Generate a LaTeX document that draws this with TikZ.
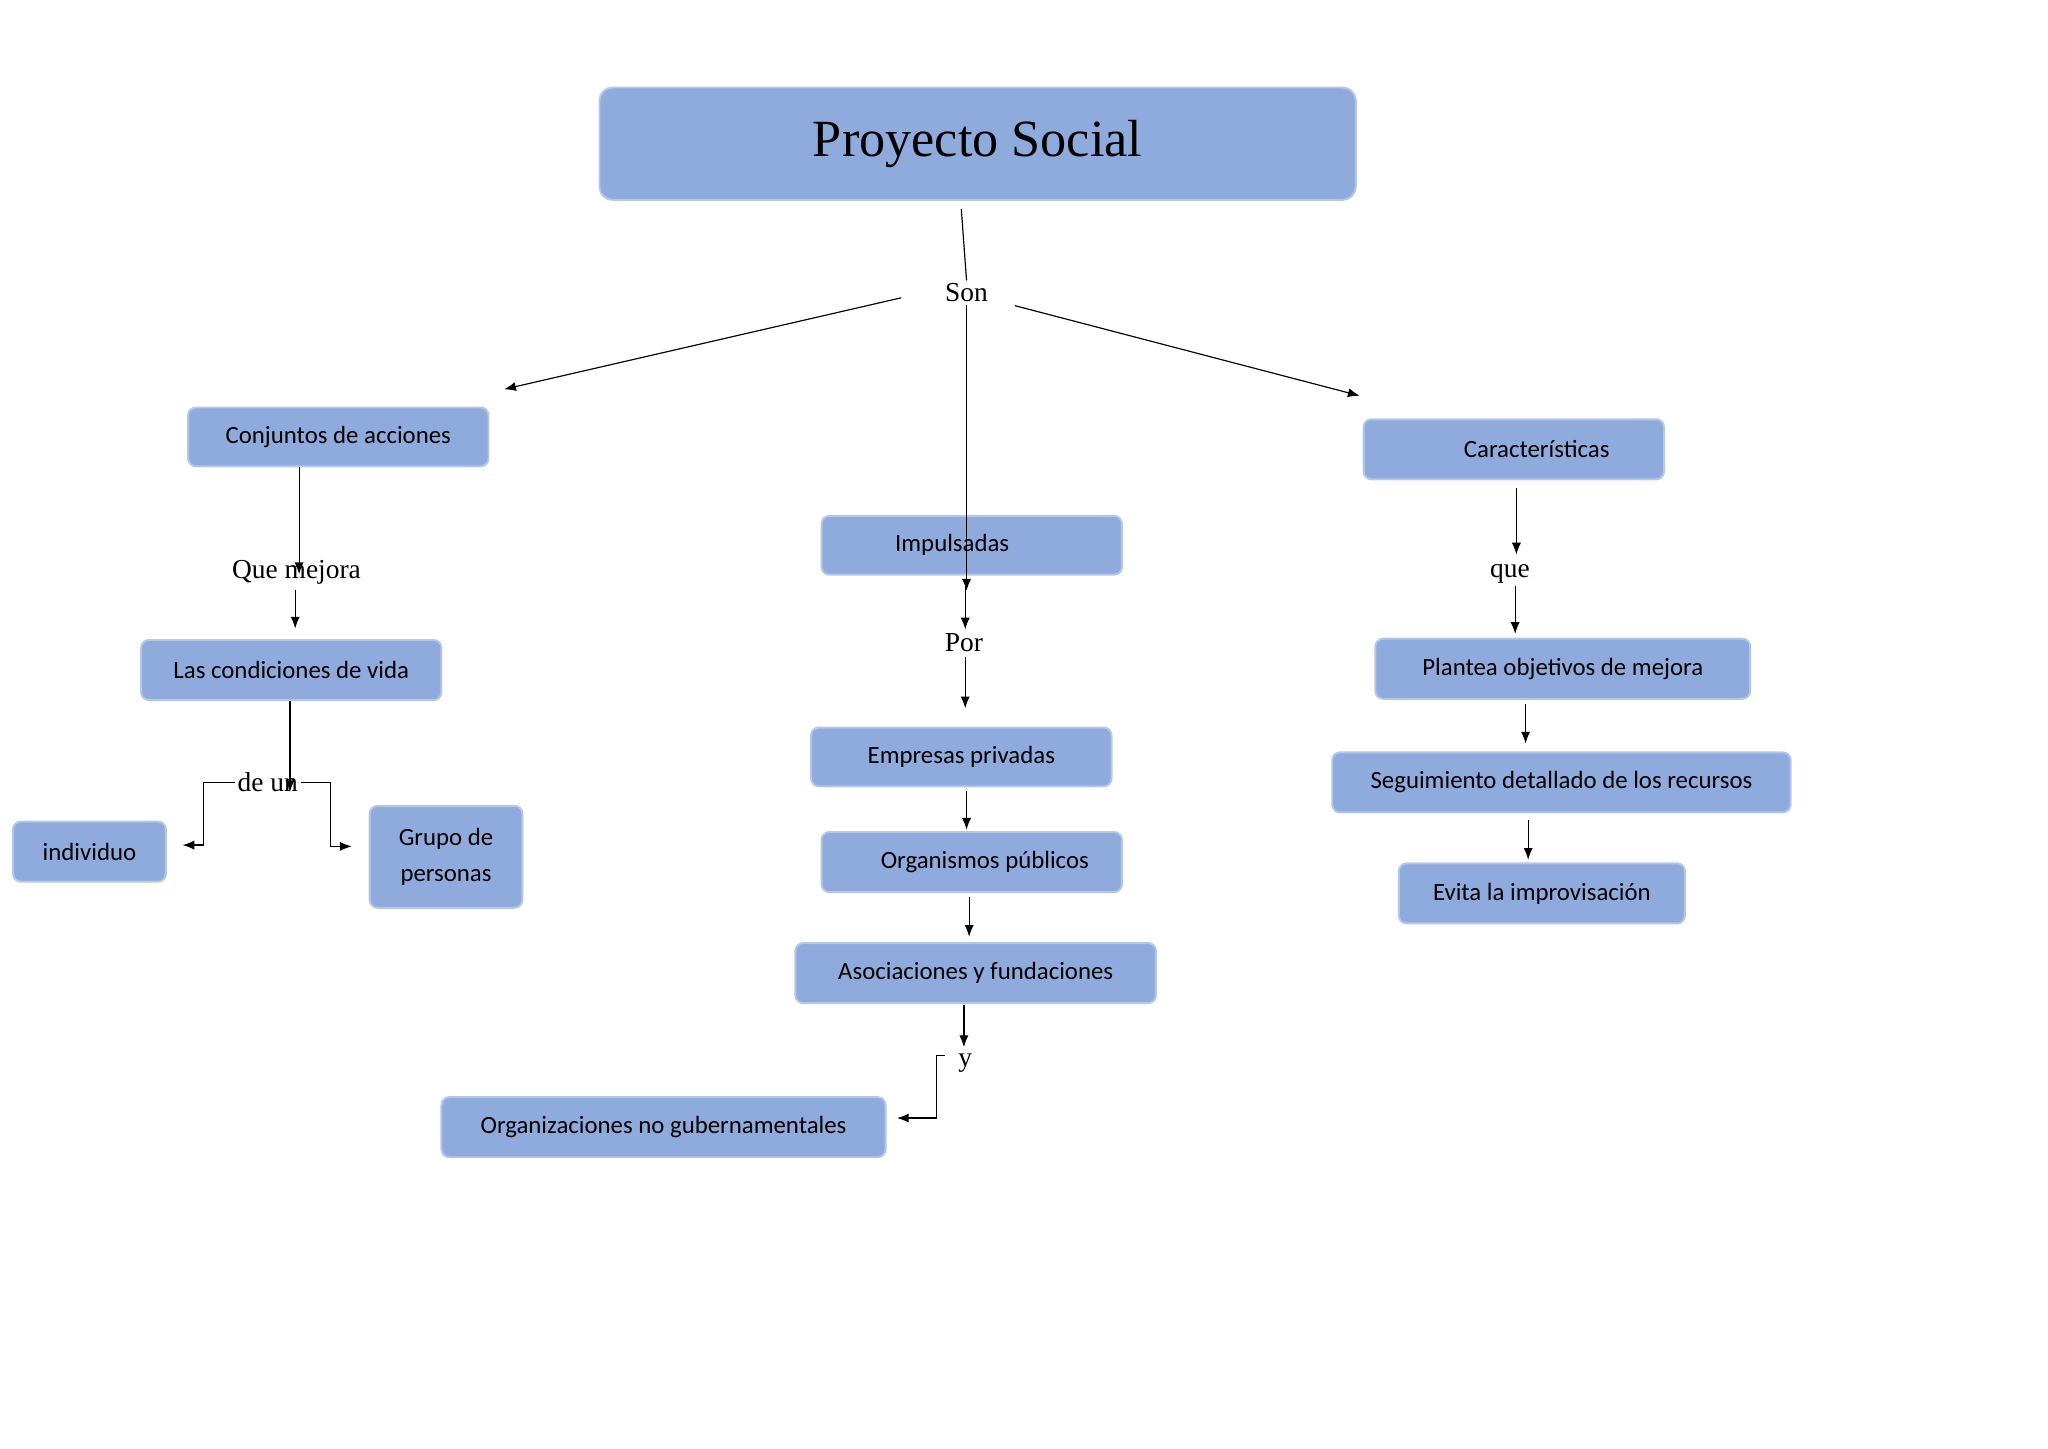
\documentclass[tikz,border=0pt]{standalone}
\usepackage{fontspec}
\setmainfont{Liberation Serif}
\newfontfamily\boxfont{Carlito}
\usetikzlibrary{arrows.meta}
\definecolor{bfill}{HTML}{8FAADC}
\definecolor{bdraw}{HTML}{B4C7E7}
\begin{document}
\begin{tikzpicture}[x=1pt,y=-1pt,
  box/.style={draw=bdraw,line width=1.5pt,fill=bfill,rounded corners=6pt,font=\boxfont\fontsize{19}{23}\selectfont,align=center,inner sep=0pt},
  lab/.style={font=\fontsize{21}{25}\selectfont,inner sep=2pt},
  arr/.style={-{Latex[length=9pt,width=7pt]},line width=0.9pt},
  ln/.style={line width=0.9pt}]
\useasboundingbox (0,0) rectangle (1568,1109);
\newcommand\bx[6]{\node[box,minimum width=#4-#2,minimum height=#5-#3] (#1) at ({(#2+#4)/2},{(#3+#5)/2}) {#6};}
\node[box,minimum width=579,minimum height=86,font=\fontsize{40}{46}\selectfont,rounded corners=10pt] (title) at (748.5,110) {Proyecto Social};
\bx{conj}{144}{312}{374}{357}{Conjuntos de acciones}
\bx{cond}{108}{490}{338}{536}{Las condiciones de vida}
\bx{ind}{10}{629}{127}{675}{individuo}
\bx{grupo}{283}{617}{400}{695}{Grupo de\\[4pt]personas}
\bx{imp}{629}{395}{859}{440}{\hspace*{-30pt}Impulsadas}
\bx{emp}{621}{557}{851}{602}{Empresas privadas}
\bx{org}{629}{637}{859}{683}{\hspace*{20pt}Organismos públicos}
\bx{asoc}{609}{722}{885}{768}{Asociaciones y fundaciones}
\bx{ong}{338}{840}{678}{886}{Organizaciones no gubernamentales}
\bx{car}{1044}{321}{1274}{367}{\hspace*{35pt}Características}
\bx{plan}{1053}{489}{1340}{535}{Plantea objetivos de mejora}
\bx{seg}{1020}{576}{1371}{622}{Seguimiento detallado de los recursos}
\bx{evi}{1071}{661}{1290}{707}{Evita la improvisación}
\node[lab] (son) at (740,224) {Son};
\node[lab] (qm) at (227,438) {Que mejora};
\node[lab] (deun) at (205,599) {de un};
\node[lab] (por) at (738,492) {Por};
\node[lab] (y) at (739,814) {y};
\node[lab] (que) at (1156,439) {que};
\coordinate (t1) at (736,160);
\draw[ln] (t1) -- (son.north);
\coordinate (sl) at (690,228); \coordinate (sr) at (777,234);
\coordinate (el) at (386,298); \coordinate (er) at (1041,303);
\draw[arr] (sl) -- (el);
\draw[arr] (sr) -- (er);
\draw[arr] (son.south) -- ([yshift=-58]imp.north -| son);
\draw[arr,shorten >=5pt] (conj.south -| 229,0) -- ([yshift=-18]qm.north -| 229,0);
\draw[arr,shorten <=2pt,shorten >=8pt] (qm.south -| 226,0) -- (cond.north -| 226,0);
\draw[arr,shorten >=3pt] (cond.south -| 222,0) -- ([yshift=-20]deun.north -| 222,0);
\draw[arr] (deun.west) -| (156,647) -- ([xshift=12]ind.east |- 0,647);
\draw[arr] (deun.east) -| (253,648) -- ([xshift=-13]grupo.west |- 0,648);
\draw[arr,shorten <=3pt,shorten >=1pt] (imp.south -| 739,0) -- (por.north -| 739,0);
\draw[arr,shorten <=2pt,shorten >=14pt] (por.south -| 739,0) -- (emp.north -| 739,0);
\draw[arr,shorten <=3pt,shorten >=1pt] (emp.south -| 740,0) -- (org.north -| 740,0);
\draw[arr,shorten <=3pt,shorten >=4pt] (org.south -| 742,0) -- (asoc.north -| 742,0);
\draw[arr,shorten <=1pt,shorten >=3pt] (asoc.south -| 738,0) -- (y.north -| 738,0);
\draw[arr] ([xshift=-8]y.west |- 0,808) -- (717,808) |- ([xshift=8]ong.east |- 0,856);
\draw[arr,shorten <=6pt,shorten >=5pt] (car.south -| 1161,0) -- (que.north -| 1161,0);
\draw[arr,shorten >=3pt] (que.south -| 1160,0) -- (plan.north -| 1160,0);
\draw[arr,shorten <=3pt,shorten >=6pt] (plan.south -| 1168,0) -- (seg.north -| 1168,0);
\draw[arr,shorten <=5pt,shorten >=2pt] (seg.south -| 1170,0) -- (evi.north -| 1170,0);
\end{tikzpicture}
\end{document}
